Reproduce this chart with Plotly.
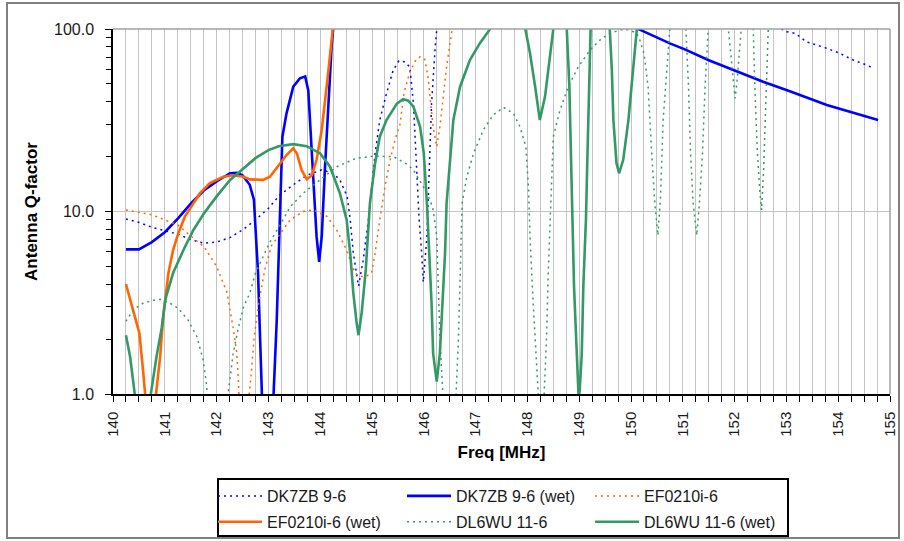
import plotly.graph_objects as go

# ---------------- data ----------------
dk7zb_freq = [140.25, 140.51, 140.75, 141.0, 141.26, 141.51, 141.76, 142.0, 142.26, 142.52,
              142.75, 143.0, 143.22, 143.48, 143.74, 144.03, 144.25, 144.38, 144.52, 144.58,
              144.64, 144.74, 144.83, 144.93, 144.99, 145.06, 145.15, 145.28, 145.41, 145.52,
              145.63, 145.73, 145.8, 145.86, 145.91, 145.96, 145.99, 146.06, 146.11, 146.15,
              146.22, 146.27, 146.4, 152.8, 152.91, 153.0, 153.17, 153.39, 153.78, 154.03,
              154.29, 154.55, 154.68]
dk7zb_q = [9.1, 8.7, 8.2, 7.85, 7.5, 7.0, 6.7, 6.8, 7.2, 8.0,
           9.0, 10.4, 12.3, 14.0, 15.8, 16.9, 16.2, 14.9, 12.1, 9.0,
           5.9, 3.9, 5.4, 9.0, 13.7, 20.8, 31.7, 44.4, 59.6, 67.0,
           66.0, 62.0, 39.0, 16.9, 9.0, 5.9, 4.1, 7.3, 16.9, 39.0,
           80.0, 115.0, 300.0, 300.0, 100.0, 96.7, 94.7, 85.0, 78.4, 73.6,
           67.6, 63.5, 60.9]

dk7zb_wet_freq = [140.25, 140.5, 140.75, 141.0, 141.26, 141.51, 141.76, 142.0, 142.26, 142.39,
                  142.5, 142.64, 142.72, 142.75, 142.8, 142.84, 142.87, 142.9, 143.08, 143.1,
                  143.16, 143.2, 143.24, 143.27, 143.35, 143.48, 143.61, 143.71, 143.77, 143.8,
                  143.87, 143.93, 143.98, 144.03, 144.09, 144.16, 144.22, 144.27, 144.4, 150.0,
                  150.14, 150.75, 151.04, 151.49, 151.97, 152.55, 153.04, 153.78, 154.77]
dk7zb_wet_q = [6.2, 6.2, 6.8, 7.7, 9.2, 11.1, 13.1, 14.6, 16.2, 16.3,
               15.8, 14.0, 11.6, 8.3, 4.6, 2.0, 1.0, 0.6, 0.6, 1.0,
               2.5, 5.9, 13.7, 25.7, 34.5, 48.3, 53.7, 55.0, 46.0, 31.8,
               13.7, 7.3, 5.3, 7.3, 16.9, 39.0, 80.0, 115.0, 300.0, 300.0,
               100.0, 83.4, 77.3, 67.6, 59.6, 51.4, 45.9, 38.3, 31.7]

ef_freq = [140.25, 140.51, 140.75, 141.0, 141.26, 141.51, 141.76, 142.0, 142.2, 142.32,
           142.39, 142.42, 142.45, 142.6, 142.63, 142.68, 142.72, 142.8, 142.93, 143.06,
           143.22, 143.42, 143.67, 143.87, 144.13, 144.32, 144.51, 144.67, 144.77, 144.88,
           144.99, 145.06, 145.15, 145.25, 145.35, 145.45, 145.54, 145.62, 145.73, 145.85,
           145.93, 146.02, 146.08, 146.12, 146.18, 146.25, 146.31, 146.44, 146.54, 146.58]
ef_q = [10.2, 9.85, 9.6, 9.0, 8.4, 7.3, 6.4, 5.0, 3.6, 2.3,
        1.67, 1.19, 0.7, 0.7, 1.0, 1.41, 1.98, 3.0, 4.8, 6.5,
        7.5, 9.0, 10.0, 10.2, 9.4, 7.9, 6.15, 4.6, 4.4, 4.4,
        4.6, 5.9, 9.0, 13.7, 19.2, 25.0, 30.0, 45.0, 58.0, 68.0,
        70.5, 68.0, 55.0, 40.8, 29.0, 22.6, 29.0, 62.0, 97.0, 130.0]

ef_wet_freq = [140.25, 140.39, 140.51, 140.58, 140.62, 140.65, 140.8, 140.83, 140.91, 140.97,
               141.07, 141.16, 141.26, 141.39, 141.51, 141.68, 141.87, 142.13, 142.32, 142.52,
               142.64, 142.9, 143.03, 143.22, 143.35, 143.48, 143.55, 143.64, 143.74, 143.84,
               143.93, 144.03, 144.09, 144.16, 144.22, 144.27]
ef_wet_q = [4.0, 2.9, 2.15, 1.35, 1.0, 0.6, 0.6, 1.0, 1.6, 2.65,
            4.6, 6.15, 7.6, 9.4, 10.6, 12.6, 14.3, 15.5, 15.8, 15.5,
            15.0, 14.9, 15.5, 18.4, 20.4, 22.2, 20.8, 16.9, 15.0, 15.8,
            19.2, 28.0, 39.0, 59.6, 87.0, 120.0]

dl_freq = [140.25, 140.39, 140.58, 140.75, 140.91, 141.1, 141.26, 141.45, 141.62, 141.74,
           141.81, 141.84, 142.2, 142.23, 142.32, 142.42, 142.52, 142.64, 142.75, 142.9,
           143.03, 143.2, 143.42, 143.67, 144.0, 144.32, 144.7, 145.03, 145.41, 145.67,
           145.8, 145.99, 146.12, 146.18, 146.25, 146.28, 146.31, 146.36, 146.39, 146.6,
           146.63, 146.67, 146.7, 146.74, 146.83, 146.96, 147.15, 147.34, 147.54, 147.73,
           147.86, 147.97, 148.02, 148.05, 148.11, 148.18, 148.21, 148.24, 148.3, 148.33,
           148.37, 148.4, 148.45, 148.5, 148.63, 148.79, 148.98, 149.21, 149.4, 149.59,
           149.8, 149.95, 150.11, 150.17, 150.25, 150.33, 150.4, 150.46, 150.52, 150.57,
           150.62, 150.69, 150.75, 150.8, 151.0, 151.06, 151.11, 151.15, 151.2, 151.27,
           151.32, 151.38, 151.43, 151.49, 151.53, 151.84, 151.88, 151.92, 151.97, 152.01,
           152.05, 152.09, 152.12, 152.16, 152.32, 152.36, 152.39, 152.44, 152.49, 152.52,
           152.56, 152.6, 152.65, 152.7]
dl_q = [2.5, 2.9, 3.14, 3.25, 3.3, 3.14, 2.95, 2.54, 2.06, 1.54,
        1.1, 0.7, 0.7, 1.05, 1.67, 2.3, 3.0, 3.56, 4.6, 5.65,
        6.8, 8.2, 10.6, 12.6, 14.9, 17.6, 19.6, 20.1, 20.0, 18.2,
        16.9, 13.7, 11.6, 10.2, 7.3, 3.9, 2.06, 1.1, 0.7, 0.7,
        1.05, 2.06, 4.2, 11.1, 15.5, 20.8, 28.0, 33.8, 37.2, 34.5,
        29.0, 22.6, 13.7, 7.3, 3.2, 1.3, 1.0, 0.7, 0.7, 1.05,
        2.06, 4.4, 11.1, 25.7, 36.0, 48.3, 62.0, 76.7, 87.0, 94.7,
        99.0, 99.0, 95.0, 87.0, 73.6, 48.3, 20.8, 11.1, 7.4, 12.0,
        31.7, 59.6, 100.0, 130.0, 130.0, 100.0, 48.3, 20.8, 11.1, 7.4,
        11.1, 20.8, 48.3, 100.0, 130.0, 130.0, 100.0, 73.6, 52.6, 41.7,
        52.6, 73.6, 100.0, 130.0, 130.0, 100.0, 48.3, 20.8, 12.6, 10.2,
        16.9, 39.0, 100.0, 130.0]

dl_wet_freq = [140.25, 140.33, 140.42, 140.45, 140.7, 140.73, 140.84, 140.94, 141.01, 141.16,
               141.36, 141.55, 141.76, 142.0, 142.26, 142.52, 142.75, 143.0, 143.2, 143.48,
               143.74, 144.0, 144.19, 144.38, 144.51, 144.58, 144.64, 144.7, 144.74, 144.8,
               144.88, 144.96, 145.06, 145.15, 145.28, 145.48, 145.6, 145.7, 145.8, 145.93,
               146.0, 146.06, 146.11, 146.15, 146.18, 146.25, 146.31, 146.36, 146.41, 146.44,
               146.51, 146.57, 146.7, 146.89, 147.08, 147.28, 147.35, 147.88, 147.96, 148.05,
               148.15, 148.24, 148.34, 148.44, 148.5, 148.55, 148.72, 148.76, 148.81, 148.84,
               148.87, 148.9, 148.94, 148.98, 148.99, 149.01, 149.05, 149.08, 149.13, 149.16,
               149.2, 149.22, 149.26, 149.55, 149.59, 149.63, 149.66, 149.72, 149.77, 149.85,
               149.95, 150.04, 150.11, 150.15]
dl_wet_q = [2.1, 1.6, 1.0, 0.6, 0.6, 1.0, 1.6, 2.3, 3.3, 4.6,
            6.15, 7.9, 9.8, 12.1, 14.9, 17.3, 19.6, 21.7, 22.8, 23.4,
            22.8, 20.8, 17.6, 12.6, 9.0, 5.9, 3.56, 2.5, 2.1, 2.77,
            4.8, 11.1, 18.4, 25.7, 31.7, 39.0, 41.2, 40.5, 37.5, 29.0,
            20.8, 11.1, 5.9, 3.14, 1.67, 1.17, 1.67, 3.14, 5.9, 11.1,
            20.8, 31.7, 48.3, 67.6, 83.4, 100.0, 130.0, 130.0, 100.0, 73.6,
            48.3, 31.7, 42.6, 70.5, 100.0, 130.0, 130.0, 100.0, 48.3, 20.8,
            9.0, 3.9, 2.06, 1.05, 0.95, 1.05, 1.67, 3.9, 9.0, 20.8,
            48.3, 100.0, 130.0, 130.0, 100.0, 59.6, 31.7, 18.4, 16.2, 19.2,
            31.7, 59.6, 100.0, 130.0]

series_names = ["DK7ZB 9-6", "DK7ZB 9-6 (wet)", "EF0210i-6",
                "EF0210i-6 (wet)", "DL6WU 11-6", "DL6WU 11-6 (wet)"]

x_tick_vals = list(range(140, 156))
y_tick_vals = [1, 10, 100]
y_tick_text = ["1.0", "10.0", "100.0"]
y_minor_vals = [2, 3, 4, 5, 6, 7, 8, 9, 20, 30, 40, 50, 60, 70, 80, 90]

# ---------------- styling ----------------
BLUE = "#0000FF"
ORANGE = "#FF6600"
GREEN = "#339966"
FONT = "Liberation Sans, Arial, sans-serif"
DOT = "2px,4px"

series = [
    (dk7zb_freq, dk7zb_q, BLUE, DOT, 1.5),
    (dk7zb_wet_freq, dk7zb_wet_q, BLUE, "solid", 2.6),
    (ef_freq, ef_q, ORANGE, DOT, 1.5),
    (ef_wet_freq, ef_wet_q, ORANGE, "solid", 2.6),
    (dl_freq, dl_q, GREEN, DOT, 1.5),
    (dl_wet_freq, dl_wet_q, GREEN, "solid", 2.6),
]
# legend column for each series (3 columns x 2 rows, row-major like the reference)
legend_ids = ["legend", "legend2", "legend3", "legend", "legend2", "legend3"]

fig = go.Figure()
for i, (name, (fx, fy, col, dash, w)) in enumerate(zip(series_names, series)):
    fig.add_trace(go.Scatter(x=fx, y=fy, mode="lines", name=name,
                             legend=legend_ids[i], legendgroup="g%d" % i,
                             line=dict(color=col, dash=dash, width=w)))

W, H = 904, 541
L, R, T, B = 113, 14, 29, 147
pw, ph = W - L - R, H - T - B


def px_x(p):
    return (p - L) / pw


def px_y(p):
    return (H - B - p) / ph


ITEMW = 44


def make_legend(text_x):
    return dict(
        orientation="v", x=px_x(text_x - ITEMW - 11), y=px_y(479), xanchor="left", yanchor="top",
        borderwidth=0, bgcolor="rgba(0,0,0,0)",
        font=dict(family=FONT, size=16, color="#1a1a1a"),
        traceorder="grouped", tracegroupgap=2, itemwidth=ITEMW,
    )


fig.update_layout(
    width=W, height=H,
    margin=dict(l=L, r=R, t=T, b=B, pad=0, autoexpand=False),
    paper_bgcolor="white",
    plot_bgcolor="white",
    font=dict(family=FONT, size=13, color="#1a1a1a"),
    showlegend=True,
    legend=make_legend(268),
    legend2=make_legend(457),
    legend3=make_legend(645),
    xaxis=dict(
        range=[140, 155], tickmode="array", tickvals=x_tick_vals,
        ticks="outside", ticklen=6, tickcolor="black", tickwidth=1,
        tickangle=-90, ticklabelstandoff=4,
        showline=True, linecolor="black", linewidth=1.5,
        showgrid=True, gridcolor="#C4C4C4", gridwidth=1,
        minor=dict(dtick=0.25, tick0=140, ticks="outside", ticklen=6,
                   tickcolor="black", showgrid=True, gridcolor="#C4C4C4", gridwidth=1),
        zeroline=False, automargin=False,
        title=dict(text="<b>Freq [MHz]</b>", font=dict(size=17, family=FONT, color="#000"),
                   standoff=10),
        tickfont=dict(size=15, family=FONT, color="#1a1a1a"),
    ),
    yaxis=dict(
        type="log", range=[0, 2],
        tickmode="array", tickvals=y_tick_vals, ticktext=y_tick_text,
        ticks="outside", ticklen=6, tickcolor="black", ticklabelstandoff=8,
        showline=True, linecolor="black", linewidth=1.5,
        showgrid=True, gridcolor="#C4C4C4", gridwidth=1,
        minor=dict(tickmode="array", tickvals=y_minor_vals, ticks="outside",
                   ticklen=5, tickcolor="black", showgrid=False),
        zeroline=False, automargin=False,
        title=dict(text="<b>Antenna Q-factor</b>", font=dict(size=17, family=FONT, color="#000"),
                   standoff=12),
        tickfont=dict(size=16, family=FONT, color="#1a1a1a"),
    ),
    shapes=[
        dict(type="line", xref="paper", yref="paper", x0=0, x1=1, y0=1, y1=1,
             line=dict(color="#A0A0A0", width=1.5), layer="above"),
        dict(type="line", xref="paper", yref="paper", x0=1, x1=1, y0=0, y1=1,
             line=dict(color="#A0A0A0", width=1.5), layer="above"),
        dict(type="rect", xref="paper", yref="paper",
             x0=px_x(7), x1=px_x(899), y0=px_y(538), y1=px_y(3),
             line=dict(color="#808080", width=2), layer="above"),
        # legend frame
        dict(type="rect", xref="paper", yref="paper",
             x0=px_x(218), x1=px_x(788), y0=px_y(536), y1=px_y(479),
             line=dict(color="black", width=2), layer="above"),
    ],
)

fig.write_html("out.html")
